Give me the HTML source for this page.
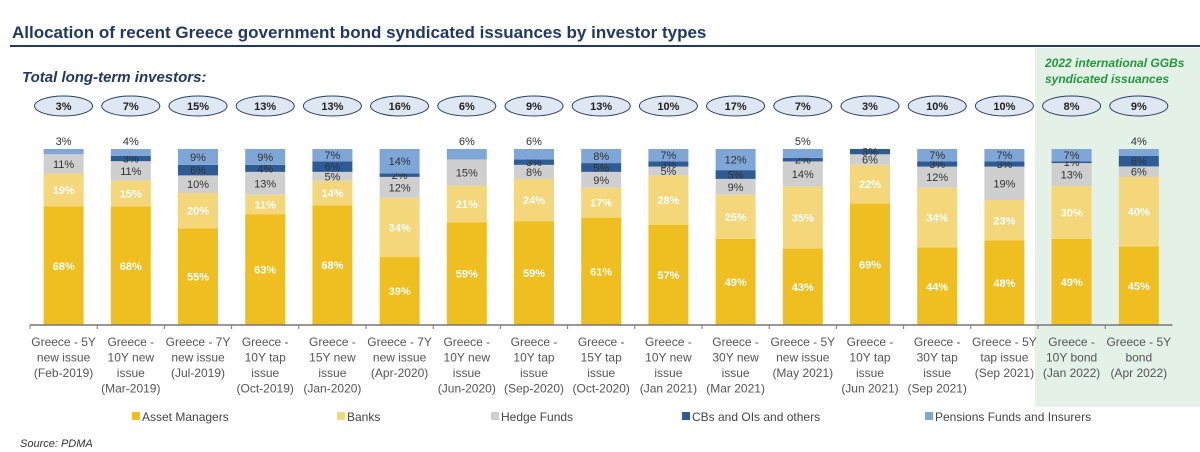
<!DOCTYPE html>
<html><head><meta charset="utf-8"><style>
body{margin:0;background:#fff;}
svg{display:block;font-family:"Liberation Sans",sans-serif;}
</style></head><body>
<svg id="c" width="1200" height="452" viewBox="0 0 1200 452">
<rect x="1035" y="48" width="165" height="359" fill="#e3f1e6"/>
<text x="12" y="38" font-size="17" font-weight="bold" fill="#1f3864">Allocation of recent Greece government bond syndicated issuances by investor types</text>
<line x1="10" y1="46" x2="1200" y2="46" stroke="#1f3864" stroke-width="2"/>
<text x="22" y="82" font-size="15" font-weight="bold" font-style="italic" fill="#1f3864">Total long-term investors:</text>
<text x="1045" y="67" font-size="12" font-weight="bold" font-style="italic" fill="#1f9a3a">2022 international GGBs</text>
<text x="1045" y="83" font-size="12" font-weight="bold" font-style="italic" fill="#1f9a3a">syndicated issuances</text>
<g id="plot"></g>
<g id="legend"></g>
<text x="20" y="447" font-size="11" font-style="italic" fill="#333">Source: PDMA</text>
</svg>
<script>
const categories=[["Greece - 5Y","new issue","(Feb-2019)"],["Greece -","10Y new","issue","(Mar-2019)"],["Greece - 7Y","new issue","(Jul-2019)"],["Greece -","10Y tap","issue","(Oct-2019)"],["Greece -","15Y new","issue","(Jan-2020)"],["Greece - 7Y","new issue","(Apr-2020)"],["Greece -","10Y new","issue","(Jun-2020)"],["Greece -","10Y tap","issue","(Sep-2020)"],["Greece -","15Y tap","issue","(Oct-2020)"],["Greece -","10Y new","issue","(Jan 2021)"],["Greece -","30Y new","issue","(Mar 2021)"],["Greece - 5Y","new issue","(May 2021)"],["Greece -","10Y tap","issue","(Jun 2021)"],["Greece -","30Y tap","issue","(Sep 2021)"],["Greece - 5Y","tap issue","(Sep 2021)"],["Greece -","10Y bond","(Jan 2022)"],["Greece - 5Y","bond","(Apr 2022)"]];
const assetManagers=[68,68,55,63,68,39,59,59,61,57,49,43,69,44,48,49,45];
const banks=[19,15,20,11,14,34,21,24,17,28,25,35,22,34,23,30,40];
const hedgeFunds=[11,11,10,13,5,12,15,8,9,5,9,14,6,12,19,13,6];
const cbsOis=[0,3,6,4,6,2,0,3,5,3,5,2,3,3,3,1,6];
const pensions=[3,4,9,9,7,14,6,6,8,7,12,5,0,7,7,7,4];
const longTerm=[3,7,15,13,13,16,6,9,13,10,17,7,3,10,10,8,9];
const seriesNames=["Asset Managers","Banks","Hedge Funds","CBs and OIs and others","Pensions Funds and Insurers"];

const NS="http://www.w3.org/2000/svg";
const colors=["#efbf22","#f4d77a","#cfcfcf","#2d5c94","#7ea6d6"];
const labelColors=["#fff","#fff","#333","#333","#333"];
const x0=30,pitch=67.2,bw=40,yBase=325,plotH=176;
const xPos=i=>x0+pitch*i+pitch/2;
const yScale=(v,tot)=>v/tot*plotH;
const plot=document.getElementById('plot');
function mk(tag,attrs,parent){const e=document.createElementNS(NS,tag);for(const k in attrs)e.setAttribute(k,attrs[k]);parent.appendChild(e);return e;}
const series=[assetManagers,banks,hedgeFunds,cbsOis,pensions];
categories.forEach((cat,i)=>{
  const cx=xPos(i);
  const tot=series.reduce((s,a)=>s+a[i],0);
  let y=yBase;
  series.forEach((arr,s)=>{
    const v=arr[i];if(!v)return;
    const h=yScale(v,tot);y-=h;
    const r=mk('rect',{x:cx-bw/2,y:y,width:bw,height:h,fill:colors[s]},plot);
    
    
    let ly=y+h/2+4,col=labelColors[s];
    if(s===4&&v<=6){ly=y-4;col='#333';}
    const t=mk('text',{x:cx,y:ly,'text-anchor':'middle','font-size':11,fill:col,'font-weight':s<2?'bold':'normal'},plot);
    t.textContent=v+'%';
    
    
  });
  const el=mk('ellipse',{cx:cx,cy:106,rx:29,ry:10,fill:'#dfe7f3',stroke:'#2b3f66','stroke-width':1},plot);
  
  
  const lt=mk('text',{x:cx,y:110,'text-anchor':'middle','font-size':11,'font-weight':'bold',fill:'#222'},plot);
  lt.textContent=longTerm[i]+'%';
  
  
  cat.forEach((line,k)=>{
    const c=mk('text',{x:cx,y:346+k*15.5,'text-anchor':'middle','font-size':12,fill:'#555'},plot);
    c.textContent=line;
    
    
  });
  const tk=mk('line',{x1:x0+pitch*i,y1:yBase,x2:x0+pitch*i,y2:yBase+4,stroke:'#777'},plot);
  
  
});
const ax=mk('line',{x1:x0,y1:yBase,x2:x0+pitch*categories.length,y2:yBase,stroke:'#777','stroke-width':1.5},plot);


const lg=document.getElementById('legend');
const legX=[132,337,491,682,925];
seriesNames.forEach((n,s)=>{
  const r=mk('rect',{x:legX[s],y:412,width:8,height:8,fill:colors[s]},lg);
  
  
  const t=mk('text',{x:legX[s]+10,y:421,'font-size':12,fill:'#444'},lg);
  t.textContent=n;
  
  
});
</script>
</body></html>
